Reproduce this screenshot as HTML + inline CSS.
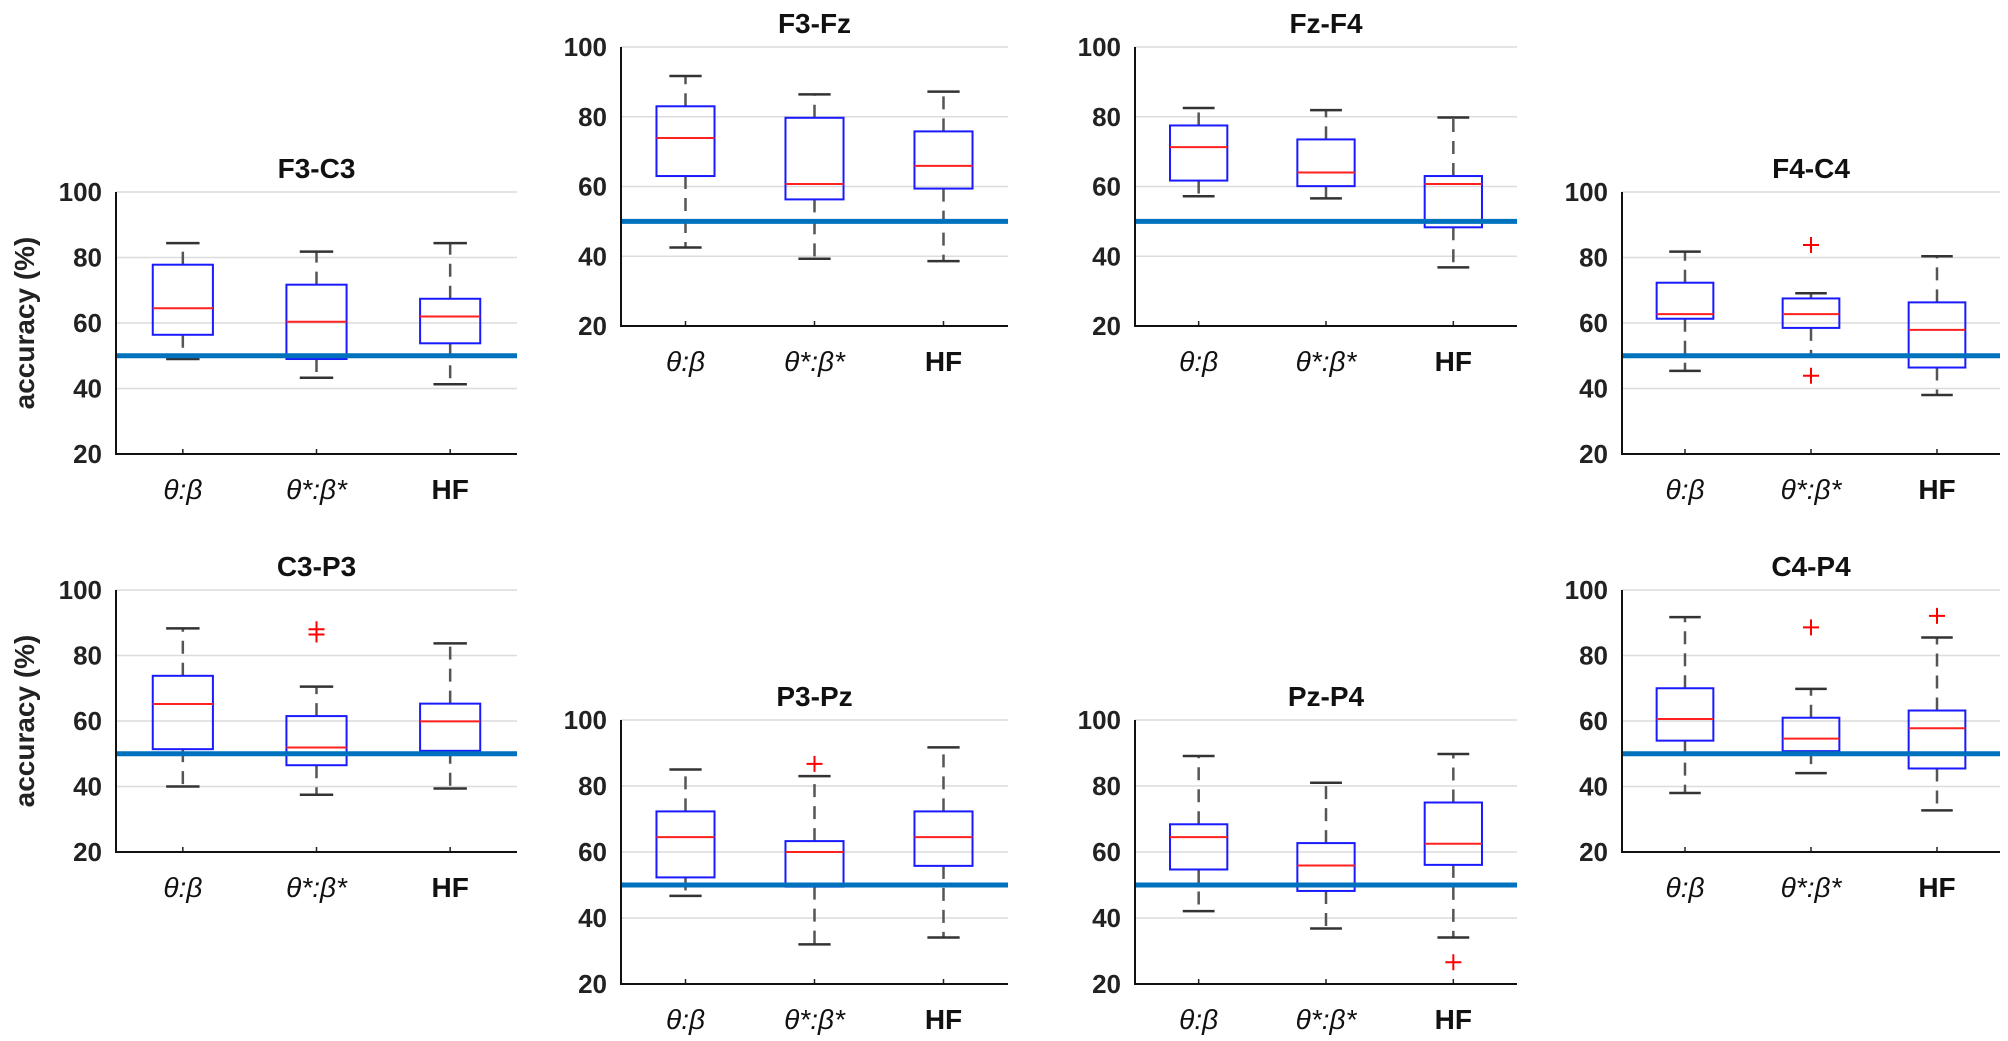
<!DOCTYPE html>
<html><head><meta charset="utf-8"><style>
html,body{margin:0;padding:0;background:#fff;}
svg{display:block;}
text{font-family:"Liberation Sans",Arial,sans-serif;}
</style></head><body>
<svg id="fig" width="2008" height="1041" viewBox="0 0 2008 1041" xmlns="http://www.w3.org/2000/svg"></svg>
<script>
const categories = ["θ:β","θ*:β*","HF"];
const yTicks = [20,40,60,80,100];
const chanceLevel = 50;
const panelTitles = ["F3-C3","F3-Fz","Fz-F4","F4-C4","C3-P3","P3-Pz","Pz-P4","C4-P4"];
// each: [low whisker, Q1, median, Q3, high whisker] per category
const statsF3C3 = [[49,56.4,64.5,77.8,84.4],[43.3,49,60.4,71.7,81.8],[41.3,53.8,62,67.4,84.4]];
const statsF3Fz = [[42.5,63,73.9,83,91.7],[39.3,56.3,60.7,79.7,86.4],[38.6,59.4,65.9,75.8,87.2]];
const statsFzF4 = [[57.2,61.7,71.3,77.5,82.5],[56.6,60.1,64,73.5,81.9],[36.8,48.3,60.7,63,79.8]];
const statsF4C4 = [[45.4,61.3,62.7,72.3,81.8],[50,58.5,62.7,67.5,69.1],[38,46.4,57.9,66.3,80.4]];
const statsC3P3 = [[40,51.4,65.2,73.8,88.3],[37.5,46.5,51.9,61.5,70.5],[39.4,50.9,59.9,65.3,83.7]];
const statsP3Pz = [[46.7,52.3,64.5,72.3,85],[32,49.5,60,63.3,83],[34.1,55.8,64.5,72.3,91.7]];
const statsPzP4 = [[42.1,54.7,64.5,68.4,89.1],[36.8,48.2,55.9,62.7,81],[34.1,56.1,62.5,75,89.7]];
const statsC4P4 = [[38,54,60.6,70,91.7],[44.1,50.8,54.6,61,69.8],[32.7,45.5,57.8,63.2,85.5]];
const outliersF3C3 = [[],[],[]];
const outliersF3Fz = [[],[],[]];
const outliersFzF4 = [[],[],[]];
const outliersF4C4 = [[],[83.8,43.9],[]];
const outliersC3P3 = [[],[88,86.4],[]];
const outliersP3Pz = [[],[86.7],[]];
const outliersPzP4 = [[],[],[26.6]];
const outliersC4P4 = [[],[88.6],[92.1]];

const allStats=[statsF3C3,statsF3Fz,statsFzF4,statsF4C4,statsC3P3,statsP3Pz,statsPzP4,statsC4P4];
const allOut=[outliersF3C3,outliersF3Fz,outliersFzF4,outliersF4C4,outliersC3P3,outliersP3Pz,outliersPzP4,outliersC4P4];
const layout=[
 {l:116,r:517,t:192,b:454,yl:true},{l:621,r:1008,t:47,b:326},{l:1135,r:1517,t:47,b:326},{l:1622,r:2000,t:192,b:454},
 {l:116,r:517,t:590,b:852,yl:true},{l:621,r:1008,t:720,b:984},{l:1135,r:1517,t:720,b:984},{l:1622,r:2000,t:590,b:852}];
const NS="http://www.w3.org/2000/svg";
const svg=document.getElementById('fig');
function mk(tag,attrs,parent,txt){const e=document.createElementNS(NS,tag);for(const k in attrs)e.setAttribute(k,attrs[k]);if(txt!==undefined)e.textContent=txt;parent.appendChild(e);return e;}
layout.forEach((L,pi)=>{
 const g=mk('g',{},svg);
 
 
 const y=v=>L.b-(v-20)/80*(L.b-L.t);
 const x=c=>L.l+(c+0.5)/3*(L.r-L.l);
 const unit=(L.r-L.l)/3, bw=0.45*unit, cw=0.25*unit;
 yTicks.forEach(t=>{
  if(t>20){const gl=mk('line',{x1:L.l,x2:L.r,y1:y(t),y2:y(t),stroke:'#dcdcdc','stroke-width':1.5},g);
   }
  const tl=mk('text',{x:L.l-14,y:y(t)+9,'text-anchor':'end','font-size':26,'font-weight':'bold',fill:'#222'},g,String(t));
  
 });
 const ttl=mk('text',{x:(L.l+L.r)/2,y:L.t-14,'text-anchor':'middle','font-size':28,'font-weight':'bold',fill:'#111'},g,panelTitles[pi]);
 
 if(L.yl){const yl=mk('text',{x:0,y:0,transform:`translate(34,${(L.t+L.b)/2}) rotate(-90)`,'text-anchor':'middle','font-size':28,'font-weight':'bold',fill:'#222'},g,'accuracy (%)');
  }
 allStats[pi].forEach((s,ci)=>{
  const cx=x(ci);
  const bg=mk('g',{},g);
  
  
  mk('line',{x1:cx,x2:cx,y1:y(s[3]),y2:y(s[4]),stroke:'#555','stroke-width':2.5,'stroke-dasharray':'13 9'},bg);
  mk('line',{x1:cx,x2:cx,y1:y(s[1]),y2:y(s[0]),stroke:'#555','stroke-width':2.5,'stroke-dasharray':'13 9'},bg);
  mk('line',{x1:cx-cw/2,x2:cx+cw/2,y1:y(s[4]),y2:y(s[4]),stroke:'#333','stroke-width':2.5},bg);
  mk('line',{x1:cx-cw/2,x2:cx+cw/2,y1:y(s[0]),y2:y(s[0]),stroke:'#333','stroke-width':2.5},bg);
  mk('rect',{x:cx-bw/2,y:y(s[3]),width:bw,height:y(s[1])-y(s[3]),fill:'none',stroke:'#1a1aff','stroke-width':2},bg);
  mk('line',{x1:cx-bw/2,x2:cx+bw/2,y1:y(s[2]),y2:y(s[2]),stroke:'#ff2020','stroke-width':2},bg);
  allOut[pi][ci].forEach(o=>{
   const p=mk('path',{d:`M${cx-8},${y(o)}H${cx+8}M${cx},${y(o)-8}V${y(o)+8}`,stroke:'#ff0000','stroke-width':2,fill:'none'},bg);
   
  });
  const xl=mk('text',{x:cx,y:L.b+45,'text-anchor':'middle','font-size':28,fill:'#111'},g,categories[ci]);
  
  if(ci<2){xl.setAttribute('font-family','"Liberation Serif",serif');xl.setAttribute('font-style','italic');}
  else{xl.setAttribute('font-weight','bold');}
  mk('line',{x1:cx,x2:cx,y1:L.b,y2:L.b-5,stroke:'#222','stroke-width':1.5},g);
 });
 const cl=mk('line',{x1:L.l,x2:L.r,y1:y(chanceLevel),y2:y(chanceLevel),stroke:'#0072BD','stroke-width':5},g);
 
 const ax=mk('path',{d:`M${L.l},${L.t}V${L.b}H${L.r}`,stroke:'#111','stroke-width':2,fill:'none'},g);
 
});
</script>
</body></html>
